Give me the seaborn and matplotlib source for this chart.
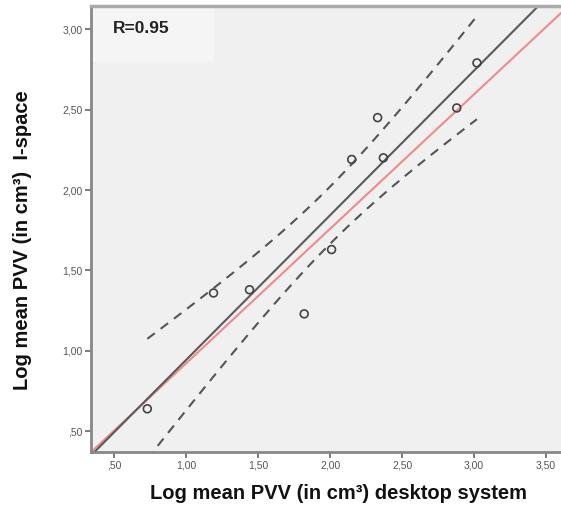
import numpy as np
import pandas as pd
import matplotlib
matplotlib.use("Agg")
import matplotlib.pyplot as plt
from matplotlib.ticker import FuncFormatter
import seaborn as sns

# values
desktop = [0.73, 1.19, 1.44, 1.82, 2.01, 2.15, 2.37, 2.33, 2.88, 3.02]
ispace = [0.64, 1.36, 1.38, 1.23, 1.63, 2.19, 2.20, 2.45, 2.51, 2.79]
r_label = "R=0.95"
ref_intercept = 0.087
ref_slope = 0.836
t_crit = 2.306  # t(0.975, df=8)

x_ticks = [0.5, 1.0, 1.5, 2.0, 2.5, 3.0, 3.5]
y_ticks = [0.5, 1.0, 1.5, 2.0, 2.5, 3.0]

sns.set_theme(style="white")
plt.rcParams['font.family'] = ['Liberation Sans', 'DejaVu Sans']

df = pd.DataFrame({"desktop": desktop, "ispace": ispace})

fig = plt.figure(figsize=(5.61, 5.11), dpi=100)
ax = fig.add_axes([0.162, 0.115, 0.838, 0.873])
ax.set_facecolor("#f0f0f0")
xlim = (0.338, 3.604)
ylim = (0.37, 3.143)
ax.set_xlim(xlim)
ax.set_ylim(ylim)

# 95% CI of the mean around OLS fit
x = df["desktop"].to_numpy()
y = df["ispace"].to_numpy()
slope, intercept = np.polyfit(x, y, 1)
resid = y - (intercept + slope * x)
s = np.sqrt((resid ** 2).sum() / (len(x) - 2))
grid = np.linspace(x.min(), x.max(), 100)
se = s * np.sqrt(1 / len(x) + (grid - x.mean()) ** 2 / ((x - x.mean()) ** 2).sum())
fit = intercept + slope * grid
band = pd.DataFrame({"x": grid, "lo": fit - t_crit * se, "hi": fit + t_crit * se})

sns.lineplot(data=band, x="x", y="hi", ax=ax, color="#555555", lw=1.5,
             linestyle=(0, (4.5, 3.5)))
sns.lineplot(data=band, x="x", y="lo", ax=ax, color="#555555", lw=1.5,
             linestyle=(0, (4.5, 3.5)))

ax.axline((0, ref_intercept), slope=ref_slope, color="#f08a8a", lw=1.5)
sns.regplot(data=df, x="desktop", y="ispace", ax=ax, scatter=False, ci=None,
            truncate=False, line_kws={"color": "#5a5a5a", "lw": 1.5})
sns.scatterplot(data=df, x="desktop", y="ispace", ax=ax, marker="o", s=32,
                facecolor="none", edgecolor="#444444", linewidth=1.2, zorder=5)

ax.set_xlim(xlim)
ax.set_ylim(ylim)

# R box
ax.add_patch(plt.Rectangle((0, 0.874), 0.262, 0.126, transform=ax.transAxes,
                           facecolor="#f5f5f5", edgecolor="none", zorder=1))
ax.text(0.047, 0.95, r_label, transform=ax.transAxes, fontsize=12.5,
        fontweight="bold", color="#222222", va="center", ha="left")


def spss_fmt(v, pos):
    txt = f"{v:.2f}".replace(".", ",")
    return txt[1:] if txt.startswith("0") else txt


ax.set_xticks(x_ticks)
ax.set_yticks(y_ticks)
ax.xaxis.set_major_formatter(FuncFormatter(spss_fmt))
ax.yaxis.set_major_formatter(FuncFormatter(spss_fmt))
ax.tick_params(axis="both", direction="out", length=4, width=1.2,
               color="#666666", labelsize=7.5, labelcolor="#555555",
               bottom=True, left=True, pad=2)

for side in ["left", "bottom"]:
    ax.spines[side].set_color("#888888")
    ax.spines[side].set_linewidth(2)
ax.spines["top"].set_color("#aaaaaa")
ax.spines["top"].set_linewidth(2.5)
ax.spines["right"].set_visible(False)

ax.set_xlabel("Log mean PVV (in cm³) desktop system", fontsize=14.5,
              fontweight="bold", color="#111111", labelpad=10)
ax.set_ylabel("Log mean PVV (in cm³)  I-space", fontsize=14.5,
              fontweight="bold", color="#111111", labelpad=22)
ax.xaxis.label.set_x(0.527)
ax.yaxis.label.set_y(0.476)

fig.savefig("out.png", dpi=100)
